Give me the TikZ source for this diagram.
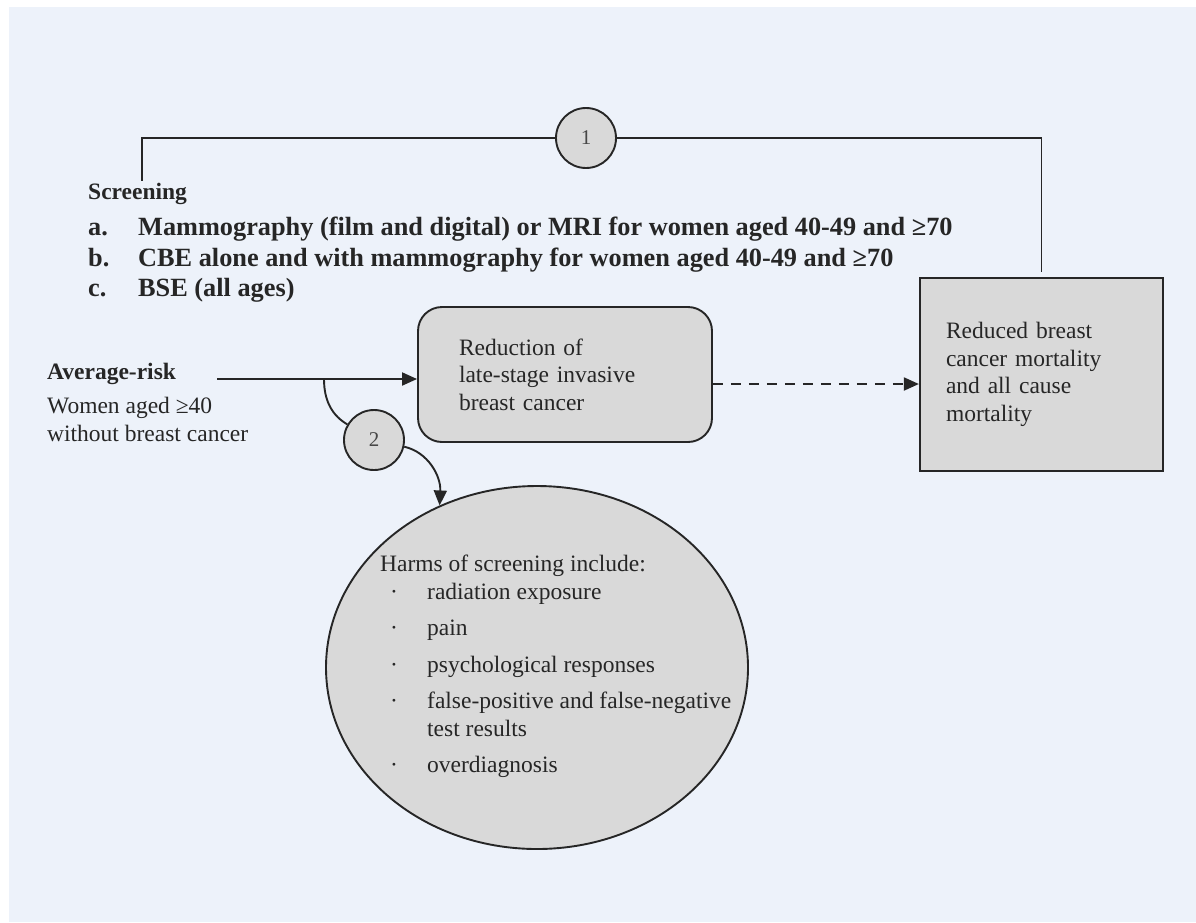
\documentclass[tikz,border=0pt]{standalone}
\usepackage{fontspec}
\setmainfont{Liberation Serif}
\usetikzlibrary{arrows.meta,shapes.geometric}

\definecolor{pagebg}{RGB}{237,242,250}
\definecolor{boxgray}{RGB}{217,217,217}
\definecolor{inkgray}{RGB}{38,38,38}

% bullet column of the harms list
\newcommand{\harmpt}{\makebox[47pt][l]{\hspace*{10pt}\textperiodcentered}}

\tikzset{
  body/.style={font=\fontsize{23.5}{27.5}\selectfont, text=inkgray},
  listtxt/.style={font=\fontsize{26.3}{30}\selectfont\bfseries, text=inkgray, inner sep=0pt},
  link/.style={draw=inkgray, line width=1.9pt},
  arr/.style={link, -{Triangle[length=15pt,width=13pt]}},
  numcirc/.style={circle, draw=inkgray, line width=1.9pt, fill=boxgray, minimum size=60pt,
    inner sep=0pt, font=\fontsize{21}{22}\selectfont, text=inkgray!85},
  roundbox/.style={body, draw=inkgray, line width=1.9pt, fill=boxgray, rounded corners=24pt,
    minimum width=294pt, minimum height=135pt, text width=212pt, inner xsep=41pt, align=left},
  sqbox/.style={body, draw=inkgray, line width=2.2pt, fill=boxgray,
    minimum width=243pt, minimum height=193pt, text width=191pt, inner xsep=26pt, align=left},
  harmell/.style={ellipse, draw=inkgray, line width=1.9pt, fill=boxgray,
    minimum width=422pt, minimum height=363pt, inner sep=0pt}
}

\begin{document}
\begin{tikzpicture}[x=1pt,y=-1pt]
  \useasboundingbox (0,0) rectangle (1196,922);
  \fill[pagebg] (9,7) rectangle (1196,922);

  % screening options
  \node[body, anchor=base west, inner sep=2pt] (screen) at (86,199) {\bfseries Screening};
  \foreach \y/\k/\t in {
      235/a/Mammography (film and digital) or MRI for women aged 40-49 and ≥70,
      266/b/CBE alone and with mammography for women aged 40-49 and ≥70,
      296/c/BSE (all ages)
  }{
    \node[listtxt, anchor=base west] (scr-\k) at (88,\y) {\makebox[50pt][l]{\k.}\t};
  }

  % population
  \node[body, anchor=base west, inner sep=0pt] (avg) at (47,379) {\bfseries Average-risk};
  \node[body, anchor=north west, align=left, inner sep=0pt] (pop) at (47,397)
    {Women aged ≥40\\without breast cancer};

  % outcomes
  \node[roundbox] (reduce) at (565,374.5) {Reduction of\\late-stage invasive\\breast cancer};
  \node[sqbox] (mortal) at (1041.5,374.5) {Reduced breast\\cancer mortality\\and all cause\\mortality};
  \node[harmell] (harms) at (537,667.5) {};
  \node[body, anchor=north west, align=left, inner sep=0pt] (harmlist) at (380,555) {%
    Harms of screening include:\\
    \harmpt radiation exposure\\[9pt]
    \harmpt pain\\[9pt]
    \harmpt psychological responses\\[9pt]
    \harmpt false-positive and false-negative\\
    \hspace*{47pt}test results\\[9pt]
    \harmpt overdiagnosis};

  % key questions
  \node[numcirc] (one) at (586,138) {1};
  \node[numcirc] (two) at (374,440) {2};

  \coordinate (start) at (217,379);
  \coordinate (fork) at (324,379);

  \draw[link] ([xshift=4pt]screen.north) |- (one);
  \draw[link] (one) -| ([yshift=5pt]mortal.north);
  \draw[arr] (start) -- (reduce.west |- start);
  \draw[arr, dash pattern=on 10pt off 8pt] ([yshift=-9.5pt]reduce.east) -- ([yshift=-9.5pt]mortal.west);
  \draw[link] (fork) .. controls (324,402) and (333,416) .. (two);
  \draw[arr] (two) .. controls (428,452) and (441,476) .. (harms.121);
\end{tikzpicture}
\end{document}
